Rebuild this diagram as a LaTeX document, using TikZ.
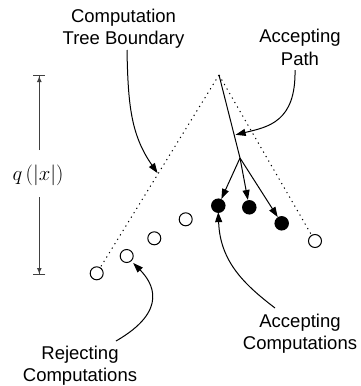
\documentclass[tikz,border=0pt]{standalone}
\usepackage{fontspec}
\setmainfont{Liberation Sans}
\usetikzlibrary{arrows.meta,calc}
\begin{document}
\begin{tikzpicture}[x=1pt,y=-1pt,
  lbl/.style={inner sep=0pt,align=center,font=\fontsize{18.5}{22.3}\selectfont},
  opencirc/.style={circle,draw,line width=1pt,minimum size=13pt,inner sep=0pt},
  fillcirc/.style={circle,fill=black,minimum size=14.5pt,inner sep=0pt},
  boundary/.style={line width=1pt,dash pattern=on 1.2pt off 4pt},
  pointer/.style={line width=1pt,-{Triangle[length=10pt,width=7pt]}},
  measure/.style={line width=1pt,draw=black!75,-{Latex[length=6pt,width=5pt]Bar[width=12pt]}}]
\useasboundingbox (0,0) rectangle (361,386);
% tree
\coordinate (apex) at (219,75);
\coordinate (branch) at (240,158);
\node[opencirc] (r1) at (96.7,273.3) {};
\node[opencirc] (r2) at (126.7,256) {};
\node[opencirc] (r3) at (154.3,238.3) {};
\node[opencirc] (r4) at (185.7,219.3) {};
\node[opencirc] (r5) at (315,241) {};
\node[fillcirc] (a1) at (218.3,205.7) {};
\node[fillcirc] (a2) at (249.3,207.3) {};
\node[fillcirc] (a3) at (281.7,223.3) {};
\draw[boundary] (apex) -- ($(r1)!8pt!(apex)$);
\draw[boundary] (apex) -- ($(r5)!8pt!(apex)$);
\draw[line width=1pt] (apex) -- (branch);
\draw[pointer] (branch) -- (a1);
\draw[pointer] (branch) -- (a2);
\draw[pointer] (branch) -- (a3);
\coordinate (tb) at ($(apex)!0.49!(r1)$);
\coordinate (ap) at ($(apex)!0.72!(branch)$);
% labels
\node[lbl] (ctb) at (123.5,29) {Computation\\Tree Boundary};
\node[lbl] (apl) at (300,47.5) {Accepting\\Path};
\node[lbl] (acl) at (300,333.5) {Accepting\\Computations};
\node[lbl] (rjl) at (80,365.5) {Rejecting\\Computations};
\coordinate (ctbs) at (127,50);
\coordinate (apls) at (295,70);
\coordinate (acls) at (275,308);
\coordinate (rjls) at (116,341);
\draw[pointer] (ctbs) .. controls (128,105) and (131,135) .. ([shift={(-1.5,1)}]tb);
\draw[pointer] (apls) .. controls (296,122) and (268,127) .. ([xshift=1.5pt]ap);
\draw[pointer] (acls) .. controls (245,285) and (220,262) .. ([yshift=1pt]a1.south);
\draw[pointer] (rjls) .. controls (170,310) and (152,282) .. ([shift={(1.5,2)}]r2.south east);
% measure
\node[inner sep=0pt,font=\fontsize{22}{26}\selectfont] (q) at (38,175.5) {$q\left(|x|\right)$};
\coordinate (qtop) at (39.3,75);
\coordinate (qbot) at (39.3,275);
\draw[measure] (39.3,150) -- (qtop);
\draw[measure] (39.3,197) -- (qbot);
\end{tikzpicture}
\end{document}
